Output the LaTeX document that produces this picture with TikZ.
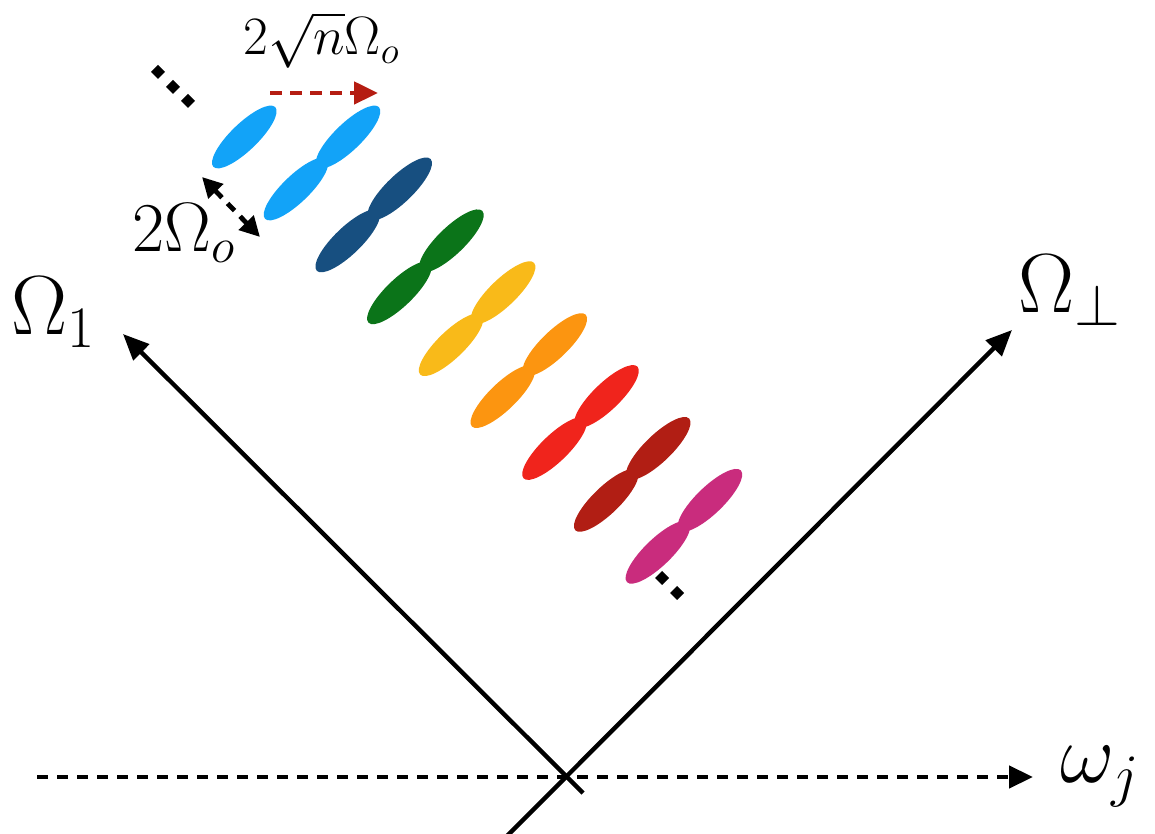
\documentclass[tikz,border=0pt]{standalone}
\usepackage{fix-cm}
\usepackage{amsmath}
\usetikzlibrary{arrows.meta}
\definecolor{cLB}{HTML}{12A3F8}
\definecolor{cDB}{HTML}{174F80}
\definecolor{cGR}{HTML}{0B7419}
\definecolor{cYE}{HTML}{F9BA19}
\definecolor{cOR}{HTML}{FC9510}
\definecolor{cRE}{HTML}{F0241C}
\definecolor{cDR}{HTML}{B11E14}
\definecolor{cMA}{HTML}{C92C7D}
\definecolor{cArrRed}{HTML}{B51D12}
\begin{document}
\begin{tikzpicture}[x=0.5pt,y=0.5pt,
  axisline/.style={line width=2.2pt,-{Triangle[length=13pt,width=11pt]}},
  freqline/.style={line width=2.2pt,dash pattern=on 5.5pt off 4.5pt,-{Triangle[length=12pt,width=11pt]}},
  shiftarrow/.style={cArrRed,line width=2.4pt,dash pattern=on 6pt off 4pt,-{Triangle[length=12pt,width=11pt]}},
  gaparrow/.style={line width=2.4pt,dash pattern=on 5pt off 4pt,{Triangle[length=10pt,width=10pt]}-{Triangle[length=10pt,width=10pt]}},
  bigmath/.style={inner sep=0pt,anchor=base west,font=\fontsize{42}{44}\selectfont},
  midmath/.style={inner sep=0pt,anchor=base west,font=\fontsize{35}{38}\selectfont},
  smallmath/.style={inner sep=0pt,anchor=base west,font=\fontsize{27}{30}\selectfont},
  lobe/.style={x radius=43,y radius=13.5}]
\useasboundingbox (0,0) rectangle (1155,834);

% lobes
\fill[cLB,rotate around={44:(244.3,697)}] (244.3,697) ellipse [lobe];
\foreach \k/\c in {0/cLB,1/cDB,2/cGR,3/cYE,4/cOR,5/cRE,6/cDR,7/cMA}{
  \pgfmathsetmacro\ux{348+51.7*\k}
  \pgfmathsetmacro\uy{697-51.9*\k}
  \fill[\c,rotate around={44:(\ux,\uy)}] (\ux,\uy) ellipse [lobe];
  \fill[\c,rotate around={44:(\ux-52,\uy-52)}] (\ux-52,\uy-52) ellipse [lobe];
}

% dots
\foreach \p in {(158,762),(173,747),(188,733),(662,256),(677,241)}
  \fill \p +(0,7) -- +(7,0) -- +(0,-7) -- +(-7,0) -- cycle;

% coordinates
\coordinate (a1s) at (583,41);
\coordinate (a1e) at (123,500);
\coordinate (a2s) at (505,-4);
\coordinate (a2e) at (1012,504);
\coordinate (fs) at (37,57);
\coordinate (fe) at (1033,57);
\coordinate (rs) at (270,741);
\coordinate (re) at (378,741);
\coordinate (gs) at (202,657);
\coordinate (ge) at (260,597);

\draw[axisline] (a1s) -- (a1e);
\draw[axisline] (a2s) -- (a2e);
\draw[freqline] (fs) -- (fe);
\draw[shiftarrow] (rs) -- (re);
\draw[gaparrow] (gs) -- (ge);

% labels
\node[bigmath] (lO1) at (11,499) {$\Omega_1$};
\node[bigmath] (lOp) at (1018,521) {$\Omega_\perp$};
\node[bigmath] (lw) at (1060,51) {$\omega_j$};
\node[midmath] (lg) at (132,582) {$2\Omega_o$};
\node[smallmath] (ls) at (243,779) {$2\sqrt{n}\Omega_o$};
\end{tikzpicture}
\end{document}
